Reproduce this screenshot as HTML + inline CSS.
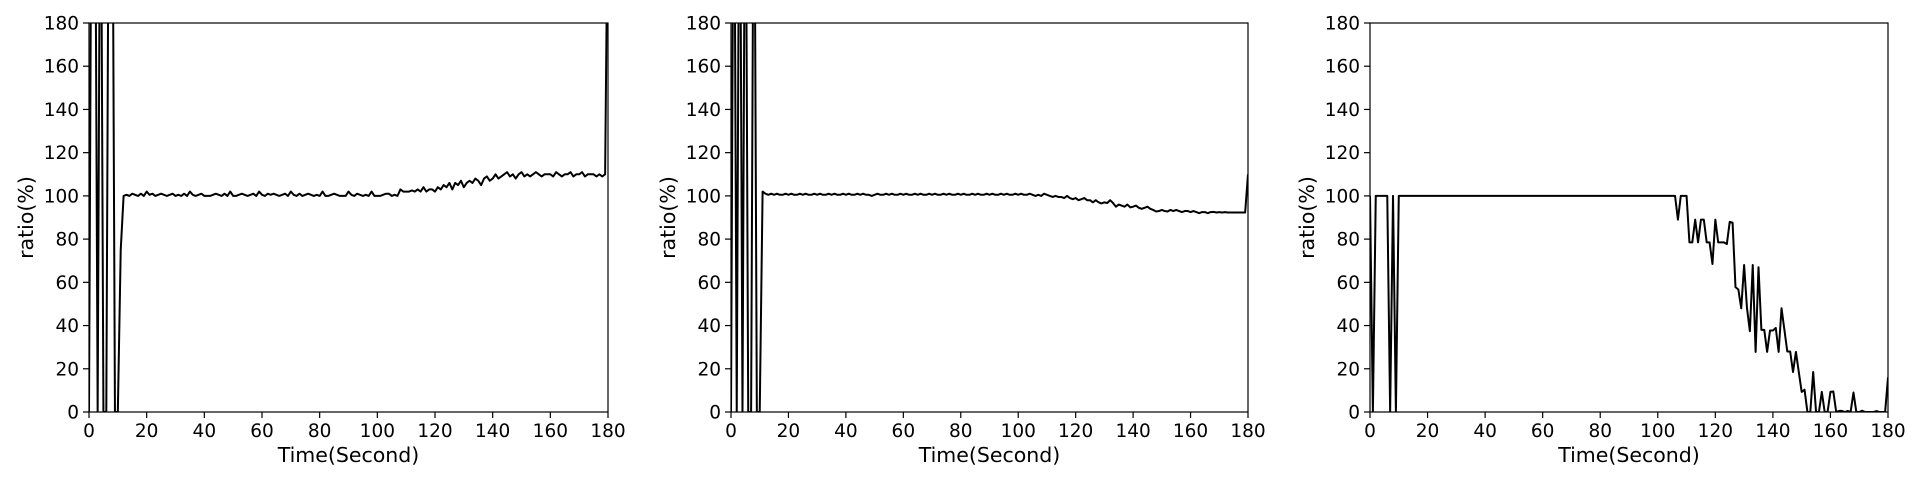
<!DOCTYPE html>
<html><head><meta charset="utf-8"><style>
html,body{margin:0;padding:0;background:#fff;}
svg{display:block;font-family:"DejaVu Sans","Liberation Sans",sans-serif;}
</style></head><body>
<svg id="chart" width="1920" height="480" viewBox="0 0 1920 480"></svg>
<script>
const xTicks=[0,20,40,60,80,100,120,140,160,180];
const yTicks=[0,20,40,60,80,100,120,140,160,180];
const times=[0,1,2,3,4,5,6,7,8,9,10,11,12,13,14,15,16,17,18,19,20,21,22,23,24,25,26,27,28,29,30,31,32,33,34,35,36,37,38,39,40,41,42,43,44,45,46,47,48,49,50,51,52,53,54,55,56,57,58,59,60,61,62,63,64,65,66,67,68,69,70,71,72,73,74,75,76,77,78,79,80,81,82,83,84,85,86,87,88,89,90,91,92,93,94,95,96,97,98,99,100,101,102,103,104,105,106,107,108,109,110,111,112,113,114,115,116,117,118,119,120,121,122,123,124,125,126,127,128,129,130,131,132,133,134,135,136,137,138,139,140,141,142,143,144,145,146,147,148,149,150,151,152,153,154,155,156,157,158,159,160,161,162,163,164,165,166,167,168,169,170,171,172,173,174,175,176,177,178,179,180];
const ratio1=[0,300,300,0,300,0,0,300,300,0,0,75,100,100.5,100,101,100.5,100,101,100,102,100.5,101,100,100.5,101,100.5,100,100.5,101,100,100.5,100,101,100,102,100.5,100,100.5,101,100,100,100,100.5,101,100.5,100,101,100,102,100,100,100.5,101,100.5,100,100.5,101,100,102,100.5,100,101,100.5,101,100.5,100,100.5,101,100,102,100.5,100,101,100,100.5,101,100.5,100,100.5,100,102,100,100,100.5,101,100.5,100,100,100,102,100.5,100,101,100.5,100,100.5,100,102,100,100,100,100.5,101,101,100,100.5,100,103,102,102,102,102.5,102,103,102,104,102,103,103,102,104,103,105,104,106,103,106,105,107,104,106,107,106,108,107,105,108,109,107,108,110,108,109,110,111,109,110,108,110,111,109,110,109,110,111,110,109,110,110,110,109,111,110,109,110,110,111,109,110,110,111,109,110,110,110,109,110,109,110,250];
const ratio2=[0,300,0,300,0,300,0,0,300,0,0,102,101,100.5,101,100.5,101,100.5,100.5,101,100.5,101,100.5,100.5,101,100.5,101,100.5,100.5,101,100.5,101,100.5,100.5,101,100.5,101,100.5,100.5,101,100.5,101,100.5,100.5,101,100.5,101,100.5,100.5,100,100.5,101,100.5,100.5,101,100.5,101,100.5,100.5,101,100.5,101,100.5,100.5,101,100.5,101,100.5,100.5,101,100.5,101,100.5,100.5,101,100.5,101,100.5,100.5,101,100.5,101,100.5,100.5,101,100.5,101,100.5,100.5,101,100.5,101,100.5,100.5,101,100.5,101,100.5,100.5,101,100.5,101,100.5,100.5,101,100.5,100,100.5,100,101,100.5,100,99.5,100,99.5,99.5,99,100,99,98.5,99,98,98.5,99,98,98,97,98,97,96.5,97,96.7,98,96.7,95,96,95.5,95,96,94.7,95,95.5,94.5,94,94.5,95,94,93.5,92.8,93,93.5,93,92.8,93.5,93,93.5,93,92.5,93,93,92.5,93,92.5,92,92.5,92.5,92,92.5,92.6,92.3,92.5,92.3,92.5,92.3,92.3,92.3,92.3,92.3,92.3,92.3,110];
const ratio3=[100,0,100,100,100,100,100,0,100,0,100,100,100,100,100,100,100,100,100,100,100,100,100,100,100,100,100,100,100,100,100,100,100,100,100,100,100,100,100,100,100,100,100,100,100,100,100,100,100,100,100,100,100,100,100,100,100,100,100,100,100,100,100,100,100,100,100,100,100,100,100,100,100,100,100,100,100,100,100,100,100,100,100,100,100,100,100,100,100,100,100,100,100,100,100,100,100,100,100,100,100,100,100,100,100,100,100,89,100,100,100,78.5,78.5,89,78.5,89,89,78.5,78.5,68.5,89,78.5,78.5,78.5,77.7,88,87.6,57.8,56.7,48,68,48,37.4,68,27.8,67,38,38,27.8,37.7,37.7,38.9,27.8,48,38,28,28,18.5,27.8,18.5,9.3,10.3,0,0,18.5,0,0,9.3,0,0,9.3,9.5,0,0.5,0.5,0,0.5,0,9,0,0,0.6,0,0,0,0,0.4,0,0,0,16];

const NS='http://www.w3.org/2000/svg';
const svgEl=document.getElementById('chart');
const plotTop=23, plotBottom=412;
const panels=[{l:89,r:608,d:ratio1,n:'left'},{l:731,r:1248,d:ratio2,n:'middle'},{l:1370,r:1888,d:ratio3,n:'right'}];
function mk(tag,attrs,parent){const e=document.createElementNS(NS,tag);for(const k in attrs)e.setAttribute(k,attrs[k]);(parent||svgEl).appendChild(e);return e;}
panels.forEach((p,pi)=>{
  const g=mk('g',{});
  
  
  const xs=v=>p.l+(v-0)/(180-0)*(p.r-p.l);
  const ys=v=>plotBottom-(v-0)/(180-0)*(plotBottom-plotTop);
  const cp=mk('clipPath',{id:'clip'+pi},g);
  mk('rect',{x:p.l,y:plotTop,width:p.r-p.l,height:plotBottom-plotTop},cp);
  let dstr='';
  times.forEach((t,i)=>{if(p.d[i]===undefined)return;dstr+=(i?'L':'M')+xs(t).toFixed(2)+','+ys(p.d[i]).toFixed(2);});
  const line=mk('path',{d:dstr,fill:'none',stroke:'#000','stroke-width':2,'stroke-linejoin':'round','clip-path':'url(#clip'+pi+')'},g);
  
  
  const frame=mk('rect',{x:p.l,y:plotTop,width:p.r-p.l,height:plotBottom-plotTop,fill:'none',stroke:'#000','stroke-width':1.2},g);
  
  
  xTicks.forEach(v=>{
    const x=xs(v);
    mk('line',{x1:x,x2:x,y1:plotBottom,y2:plotBottom+6,stroke:'#000','stroke-width':1.2},g);
    const t=mk('text',{x:x,y:437,'font-size':18.5,'text-anchor':'middle',fill:'#000'},g);
    t.textContent=v;
    
    
  });
  yTicks.forEach(v=>{
    const y=ys(v);
    mk('line',{x1:p.l-6,x2:p.l,y1:y,y2:y,stroke:'#000','stroke-width':1.2},g);
    const t=mk('text',{x:p.l-10,y:y+6.5,'font-size':18.5,'text-anchor':'end',fill:'#000'},g);
    t.textContent=v;
    
    
  });
  const xl=mk('text',{x:(p.l+p.r)/2,y:462,'font-size':20.5,'text-anchor':'middle',fill:'#000'},g);
  xl.textContent='Time(Second)';
  
  
  const yl=mk('text',{x:0,y:0,'font-size':20.5,'text-anchor':'middle',fill:'#000',transform:'translate('+(p.l-56)+','+((plotTop+plotBottom)/2)+') rotate(-90)'},g);
  yl.textContent='ratio(%)';
  
  
});
</script>
</body></html>
